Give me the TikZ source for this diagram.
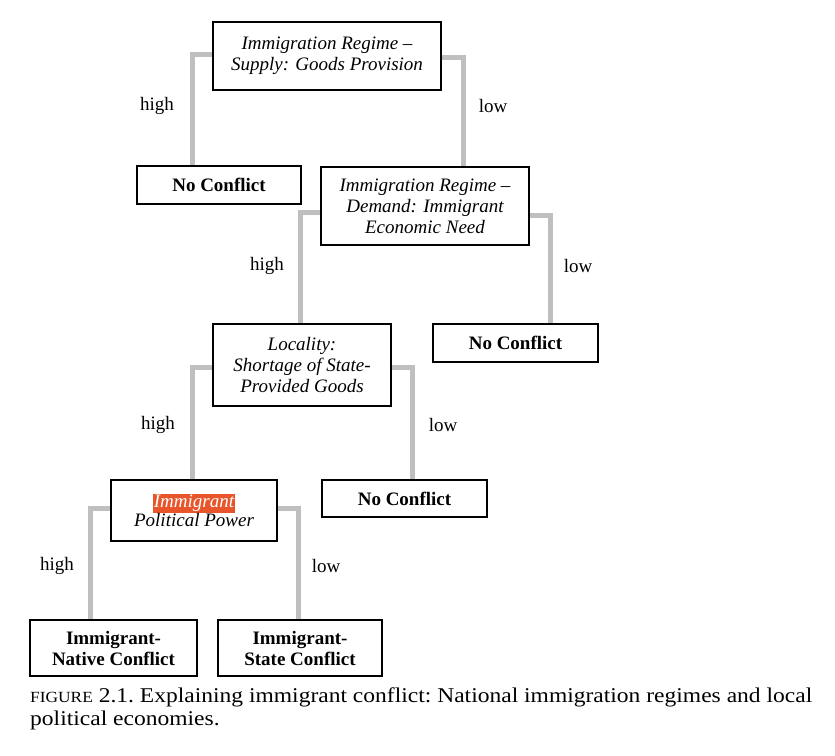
\documentclass[tikz,border=0pt]{standalone}
\usepackage{fontspec}
\setmainfont{Liberation Serif}
\newfontfamily\capfont[FakeStretch=1.12]{Liberation Serif}
\usepackage{xcolor}
\usetikzlibrary{positioning,calc}
\definecolor{hilite}{HTML}{E8552A}
\definecolor{branchgray}{HTML}{BFBFBF}

\begin{document}
\begin{tikzpicture}[x=1pt,y=-1pt,
		every node/.style={font=\fontsize{19}{21}\selectfont},
		factor/.style={draw,line width=1.6pt,fill=white,align=center,inner sep=0pt,font=\fontsize{19}{21}\selectfont\itshape},
		outcome/.style={draw,line width=1.6pt,fill=white,align=center,inner sep=0pt,font=\fontsize{19}{21}\selectfont\bfseries},
		branch/.style={branchgray,line width=5pt}]
		
		\useasboundingbox (0,0) rectangle (835,755);
		
		\node[factor,minimum width=228pt,minimum height=68pt] (supply) at (327,56)
		{Immigration Regime --\\Supply: Goods Provision};
		\node[outcome,minimum width=164pt,minimum height=38pt] (nc1) at (219,185) {No Conflict};
		\node[factor,minimum width=208pt,minimum height=78pt] (demand) at (425,206)
		{Immigration Regime --\\Demand: Immigrant\\Economic Need};
		\node[outcome,minimum width=165pt,minimum height=38pt] (nc2) at (515.5,343) {No Conflict};
		\node[factor,minimum width=178pt,minimum height=82pt] (locality) at (302,365)
		{Locality:\\Shortage of State-\\Provided Goods};
		\node[outcome,minimum width=165pt,minimum height=37pt] (nc3) at (404.5,498.5) {No Conflict};
		\node[factor,minimum width=166pt,minimum height=61pt] (power) at (194,510.5)
		{{\setlength{\fboxsep}{1pt}\colorbox{hilite}{\color{white}Immigrant}}\\[-2pt]Political Power};
		\node[outcome,minimum width=167pt,minimum height=56pt] (native) at (113.5,648)
		{Immigrant-\\Native Conflict};
		\node[outcome,minimum width=164pt,minimum height=56pt] (state) at (300,648)
		{Immigrant-\\State Conflict};
		
		\draw[branch] ([yshift=2pt]supply.west) -| ([xshift=-27pt]nc1.north);
		\draw[branch] ([yshift=-1pt]supply.east) -| ([xshift=38pt]demand.north);
		\draw[branch] ([yshift=-6pt]demand.west) -| ([xshift=-2pt]locality.north);
		\draw[branch] ([yshift=-9pt]demand.east) -| ([xshift=35pt]nc2.north);
		\draw[branch] ([yshift=-2pt]locality.west) -| ([xshift=-2pt]power.north);
		\draw[branch] ([yshift=-2pt]locality.east) -| ([xshift=8pt]nc3.north);
		\draw[branch] ([yshift=2pt]power.west) -| ([xshift=-23pt]native.north);
		\draw[branch] ([yshift=2pt]power.east) -| ([xshift=-2pt]state.north);
		
		\node (h1) at (157,106) {high};
		\node (l1) at (493,106) {low};
		\node (h2) at (267,266) {high};
		\node (l2) at (578,266) {low};
		\node (h3) at (158,425) {high};
		\node (l3) at (443,425) {low};
		\node (h4) at (57,566) {high};
		\node (l4) at (326,566) {low};
		
		\node[anchor=north west,inner sep=0pt,text width=782pt,align=justify,
		font=\capfont\fontsize{21}{23}\selectfont\frenchspacing] (caption) at (30,688)
		{{\fontsize{15.5}{23}\selectfont FIGURE} 2.1. Explaining immigrant conflict: National immigration regimes and local\linebreak political economies.};
		
	\end{tikzpicture}
\end{document}
